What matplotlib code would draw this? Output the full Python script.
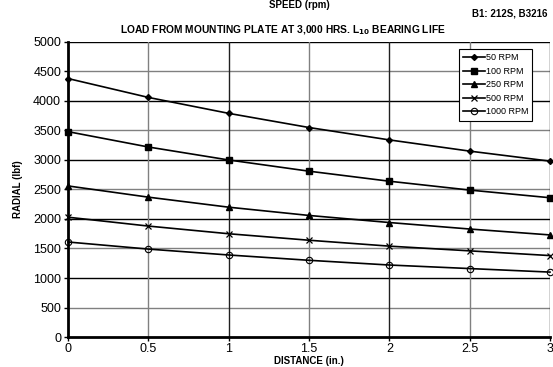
import matplotlib
matplotlib.use("Agg")
import matplotlib.pyplot as plt

plt.rcParams['font.family'] = ['Liberation Sans', 'DejaVu Sans']

distance = [0, 0.5, 1, 1.5, 2, 2.5, 3]
rpm_50 = [4380, 4060, 3790, 3550, 3340, 3150, 2980]
rpm_100 = [3480, 3220, 3000, 2810, 2640, 2490, 2360]
rpm_250 = [2560, 2370, 2200, 2060, 1940, 1830, 1730]
rpm_500 = [2030, 1880, 1750, 1640, 1540, 1460, 1380]
rpm_1000 = [1610, 1490, 1390, 1300, 1220, 1160, 1100]
series_labels = ['50 RPM', '100 RPM', '250 RPM', '500 RPM', '1000 RPM']
x_ticks = [0, 0.5, 1, 1.5, 2, 2.5, 3]
x_tick_labels = ['0', '0.5', '1', '1.5', '2', '2.5', '3']
y_ticks = [0, 500, 1000, 1500, 2000, 2500, 3000, 3500, 4000, 4500, 5000]

fig = plt.figure(figsize=(5.53, 3.67), dpi=100)
ax = fig.add_axes([0.123, 0.0817, 0.8716, 0.804])

# grid
for i, yv in enumerate(y_ticks[1:]):
    ax.axhline(yv, color='#808080' if i % 2 == 0 else 'black', lw=1.0, zorder=1)
for i, xv in enumerate(x_ticks[1:]):
    ax.axvline(xv, color='#808080' if i % 2 == 0 else '#202020', lw=1.0, zorder=1)

styles = [
    dict(marker='D', ms=3.0, mfc='black'),
    dict(marker='s', ms=4.5, mfc='black'),
    dict(marker='^', ms=4.5, mfc='black'),
    dict(marker='x', ms=4.5, mew=0.9),
    dict(marker='o', ms=4.6, mfc='none', mew=0.8),
]
data = [rpm_50, rpm_100, rpm_250, rpm_500, rpm_1000]
for vals, lab, st in zip(data, series_labels, styles):
    ax.plot(distance, vals, color='black', lw=1.2, mec='black', label=lab,
            clip_on=False, zorder=3, **st)

ax.set_xlim(0, 3)
ax.set_ylim(0, 5000)
ax.set_xticks(x_ticks)
ax.set_xticklabels(x_tick_labels)
ax.set_yticks(y_ticks)
ax.tick_params(axis='both', labelsize=9, length=3, width=1, color='black', pad=2)
ax.tick_params(axis='x', pad=1)

for s in ['top', 'right']:
    ax.spines[s].set_visible(False)
ax.spines['left'].set_linewidth(2)
ax.spines['bottom'].set_linewidth(2)

ax.set_xlabel('DISTANCE (in.)', fontsize=7, fontweight='bold', labelpad=1)
ax.set_ylabel('RADIAL (lbf)', fontsize=7, fontweight='bold', labelpad=7)

leg = ax.legend(loc='upper right', bbox_to_anchor=(0.963, 0.975), fontsize=6.5,
                frameon=True, fancybox=False, edgecolor='black', framealpha=1,
                handlelength=2.4, handletextpad=0.1, borderpad=0.45,
                labelspacing=0.5, borderaxespad=0)
leg.get_frame().set_linewidth(0.8)

fig.text(0.542, 0.999, 'SPEED (rpm)', ha='center', va='top', fontsize=7, fontweight='bold')
fig.text(0.99, 0.962, 'B1: 212S, B3216', ha='right', va='center', fontsize=7, fontweight='bold')
fig.text(0.512, 0.918, 'LOAD FROM MOUNTING PLATE AT 3,000 HRS. L$_{\\mathbf{10}}$ BEARING LIFE',
         ha='center', va='center', fontsize=7.4, fontweight='bold')

fig.savefig('out.png', dpi=100)
